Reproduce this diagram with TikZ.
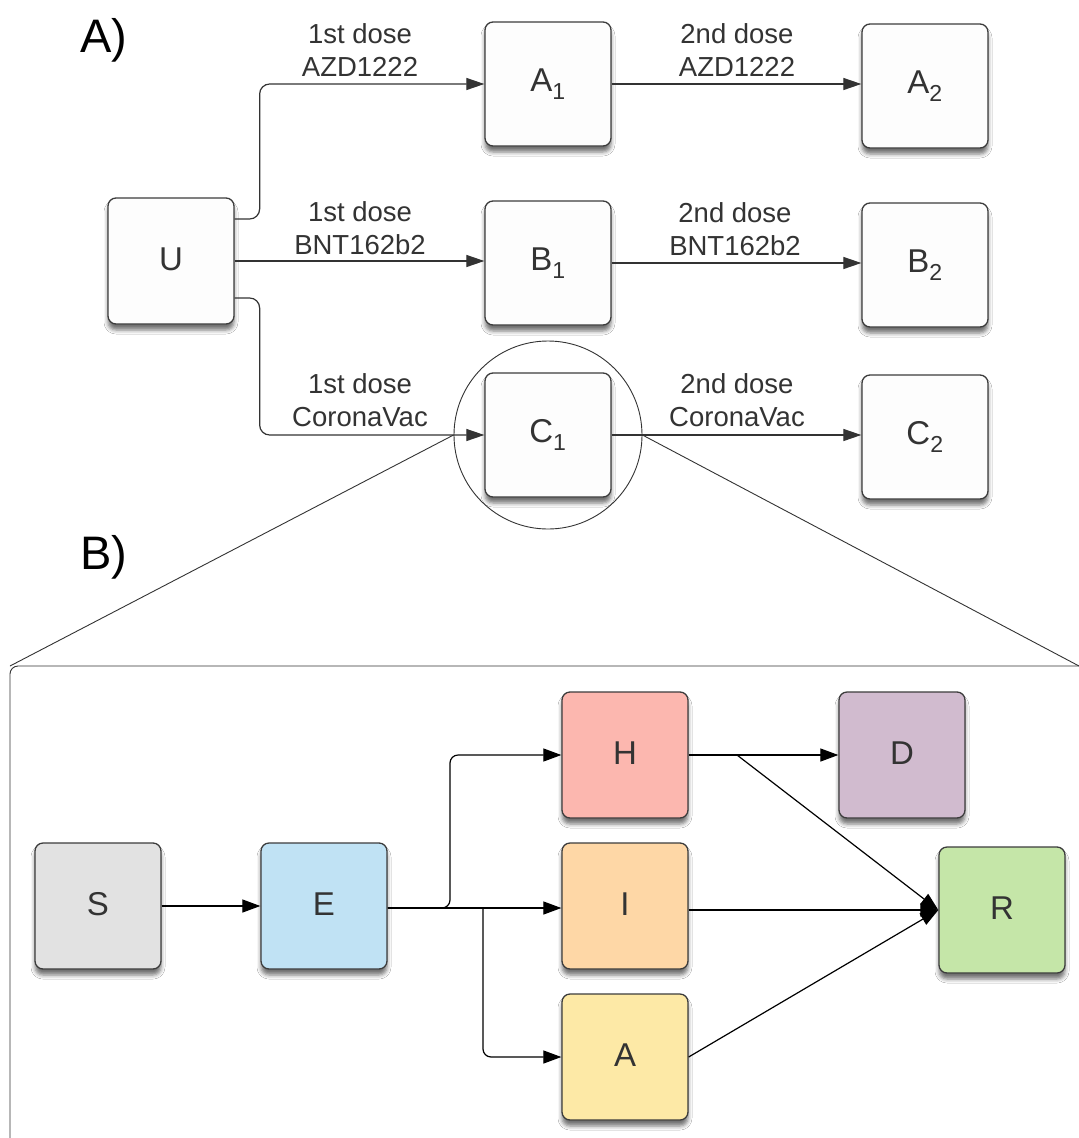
\documentclass[tikz,border=0pt]{standalone}
\usepackage{fontspec}
\setmainfont{Liberation Sans}
\usetikzlibrary{arrows.meta,shadows.blur}
\definecolor{ink}{HTML}{333333}
\definecolor{boxline}{HTML}{3C3C3C}
\definecolor{plain}{HTML}{FDFDFD}
\definecolor{cS}{HTML}{E2E2E2}
\definecolor{cE}{HTML}{C0E2F4}
\definecolor{cH}{HTML}{FCB7AF}
\definecolor{cD}{HTML}{D1BBCF}
\definecolor{cI}{HTML}{FED7A6}
\definecolor{cA}{HTML}{FDE9A6}
\definecolor{cR}{HTML}{C5E6A8}
% box captions sit a little above the box centre
\newcommand{\boxtext}[1]{\raisebox{4pt}{#1}}
\begin{document}
\begin{tikzpicture}[x=1pt,y=-1pt,
  box/.style={draw=boxline, line width=1.3pt, rounded corners=8pt,
    minimum width=126pt, minimum height=124pt, inner sep=0pt, text=ink,
    font=\fontsize{33}{38}\selectfont,
    blur shadow={shadow xshift=0pt, shadow yshift=-6pt,
      shadow blur radius=4pt, shadow opacity=55}},
  lab/.style={align=center, text=ink, font=\fontsize{27.5}{33}\selectfont},
  panel/.style={text=black, font=\fontsize{47}{50}\selectfont},
  conn/.style={draw=ink, line width=1.2pt, rounded corners=10pt,
    -{Triangle[length=18pt,width=12pt]}},
  flow/.style={draw=black, line width=1.2pt, rounded corners=8pt,
    -{Triangle[length=18pt,width=13pt]}},
  thin/.style={draw=ink, line width=0.9pt}]
\clip (0,0) rectangle (1079,1138);
\fill[white] (0,0) rectangle (1079,1138);

% ---- part A: vaccination schedule ----
\node[panel] (pA) at (104,40) {A)};
\node[box, fill=plain, minimum height=126pt] (U) at (171,261) {\boxtext{U}};
\node[box, fill=plain] (A1) at (548,84) {\boxtext{A\textsubscript{1}}};
\node[box, fill=plain] (A2) at (925,86) {\boxtext{A\textsubscript{2}}};
\node[box, fill=plain] (B1) at (548,263) {\boxtext{B\textsubscript{1}}};
\node[box, fill=plain] (B2) at (925,265) {\boxtext{B\textsubscript{2}}};
\node[box, fill=plain] (C1) at (548,435) {\boxtext{C\textsubscript{1}}};
\node[box, fill=plain] (C2) at (925,437) {\boxtext{C\textsubscript{2}}};

\draw[conn] ([yshift=42pt]U.east) -- ++(25,0) |- (A1.west);
\draw[conn] (U.east) -- (B1.west |- U.east);
\draw[conn] ([yshift=-37pt]U.east) -- ++(25,0) |- (C1.west);
\draw[conn] (A1.east) -- (A2.west |- A1.east);
\draw[conn] (B1.east) -- (B2.west |- B1.east);
\draw[conn] (C1.east) -- (C2.west |- C1.east);

\node[lab] (lA1) at (360,50) {1st dose\\AZD1222};
\node[lab] (lA2) at (737,50) {2nd dose\\AZD1222};
\node[lab] (lB1) at (360,228) {1st dose\\BNT162b2};
\node[lab] (lB2) at (735,229) {2nd dose\\BNT162b2};
\node[lab] (lC1) at (360,400) {1st dose\\CoronaVac};
\node[lab] (lC2) at (737,400) {2nd dose\\CoronaVac};

% magnifier linking C1 to the compartment model
\node[thin, circle, minimum size=188pt, inner sep=0pt] (lens) at (548,435) {};
\coordinate (fl) at (10,666);
\coordinate (fr) at (1079,666);
\draw[thin] (lens.west) -- (fl);
\draw[thin] (lens.east) -- (fr);
\draw[thin, rounded corners=8pt] (1100,666) -- (fl) -- (10,1160);

% ---- part B: compartment model ----
\node[panel] (pB) at (104,557) {B)};
\node[box, fill=cS, minimum height=126pt] (S) at (98,906) {\boxtext{S}};
\node[box, fill=cE, minimum height=126pt] (E) at (324,906) {\boxtext{E}};
\node[box, fill=cH, minimum height=126pt] (H) at (625,755) {\boxtext{H}};
\node[box, fill=cD, minimum height=126pt] (D) at (902,755) {\boxtext{D}};
\node[box, fill=cI, minimum height=126pt] (I) at (625,906) {\boxtext{I}};
\node[box, fill=cA, minimum height=126pt] (A) at (625,1057) {\boxtext{A}};
\node[box, fill=cR, minimum height=126pt] (R) at (1002,910) {\boxtext{R}};

\coordinate (split) at (483,908);
\coordinate (hsplit) at (737,755);
\draw[flow] (S.east) -- (E.west);
\draw[flow] ([yshift=-2pt]E.east) -- (450,908) |- (H.west);
\draw[flow] ([yshift=-2pt]E.east) -- (I.west |- split);
\draw[flow] (split) |- (A.west);
\draw[flow] (H.east) -- (D.west);
\draw[flow] (hsplit) -- (R.west);
\draw[flow] (I.east |- R.west) -- (R.west);
\draw[flow] (A.east) -- (R.west);
\end{tikzpicture}
\end{document}
